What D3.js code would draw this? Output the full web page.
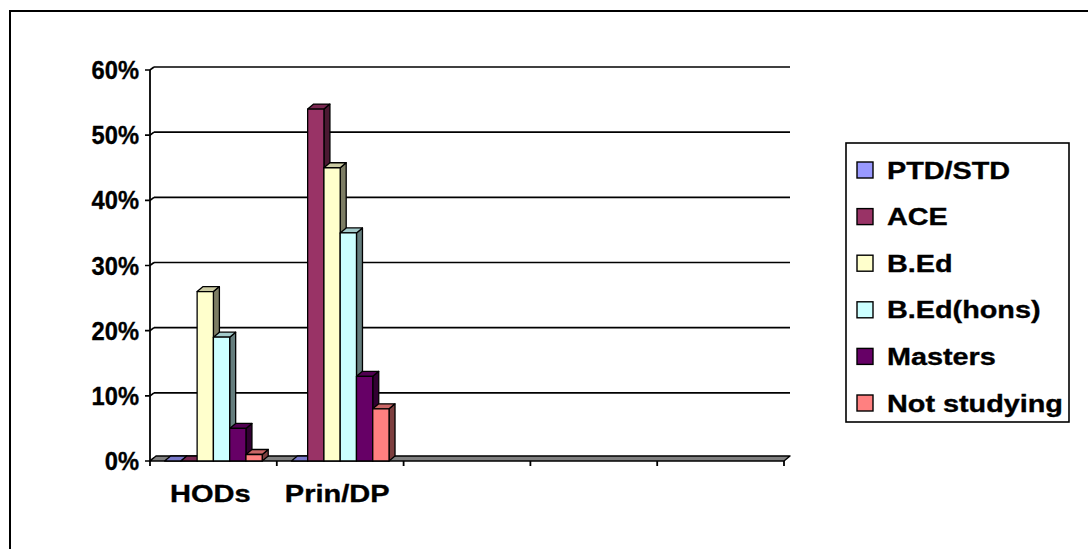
<!DOCTYPE html>
<html>
<head>
<meta charset="utf-8">
<script src="https://cdn.jsdelivr.net/npm/d3@7/dist/d3.min.js"></script>
<style>
  html, body { margin: 0; padding: 0; background: #fff; }
  svg { display: block; }
  text { font-family: "Liberation Sans", Arial, sans-serif; font-weight: bold; fill: #000;
         stroke: #000; stroke-width: 0.35px; }
</style>
</head>
<body>
<svg id="chart" width="1088" height="549"></svg>
<script>
// Qualification levels of HODs and principals/deputy principals
const categories = ["HODs", "Prin/DP", "", "", ""];
const seriesNames = ["PTD/STD", "ACE", "B.Ed", "B.Ed(hons)", "Masters", "Not studying"];
const seriesColors = ["#9999FF", "#993366", "#FFFFCC", "#CCFFFF", "#660066", "#FF8080"];
const hodValues  = [0, 0, 0.26, 0.19, 0.05, 0.01];
const prinValues = [0, 0.54, 0.45, 0.35, 0.13, 0.08];
const yTicks = [0, 0.1, 0.2, 0.3, 0.4, 0.5, 0.6];

const valuesByCategory = [hodValues, prinValues, [], [], []];

const svg = d3.select("#chart");

// chart area frame
svg.append("rect")
  .attr("x", 10).attr("y", 11)
  .attr("width", 1200).attr("height", 600)
  .attr("fill", "#fff").attr("stroke", "#000").attr("stroke-width", 2);

// plot geometry: front plane plus a shallow back wall
const left = 150, right = 784;
const wallDx = 4, wallDy = 3;      // back wall offset
const depthDx = 6, depthDy = 5;    // bar / floor depth

const x0 = d3.scaleBand().domain(d3.range(categories.length)).range([left, right]).padding(0);
const x1 = d3.scaleBand().domain(seriesNames)
  .range([x0.bandwidth() * 0.115, x0.bandwidth() * 0.885]).padding(0);
const y = d3.scaleLinear().domain([0, 0.6]).range([461, 70]);

function label(g, x, yy, str, anchor, size, sx) {
  return g.append("text")
    .attr("transform", `translate(${x},${yy}) scale(${sx},1)`)
    .attr("text-anchor", anchor)
    .style("font-size", size + "px")
    .text(str);
}

// back wall gridlines with the wall-edge bend and outer tick
const grid = svg.append("g");
yTicks.forEach(t => {
  const yf = y(t), yb = y(t) - wallDy;
  if (t > 0) {
    grid.append("line")
      .attr("x1", left + wallDx).attr("x2", right + depthDx)
      .attr("y1", yb).attr("y2", yb)
      .attr("stroke", "#000").attr("stroke-width", 1.7);
  }
  grid.append("path")
    .attr("d", `M${left - 5},${yf}L${left},${yf}L${left + wallDx},${yb}`)
    .attr("fill", "none").attr("stroke", "#000").attr("stroke-width", 1.7);
});

// value axis line
svg.append("line")
  .attr("x1", left).attr("x2", left)
  .attr("y1", y(0.6)).attr("y2", y(0) + 1)
  .attr("stroke", "#000").attr("stroke-width", 1.8);

// floor slab
svg.append("path")
  .attr("d", `M${left},${y(0)}L${right},${y(0)}L${right + depthDx},${y(0) - depthDy}L${left + depthDx},${y(0) - depthDy}Z`)
  .attr("fill", "#808080").attr("stroke", "#000").attr("stroke-width", 1.4)
  .attr("stroke-linejoin", "round");

// category axis ticks
svg.append("g").selectAll("line")
  .data(d3.range(categories.length + 1))
  .join("line")
  .attr("x1", i => left + i * x0.bandwidth())
  .attr("x2", i => left + i * x0.bandwidth())
  .attr("y1", y(0)).attr("y2", y(0) + 5)
  .attr("stroke", "#000").attr("stroke-width", 1.8);

// 3D columns: side, top, then front face, left to right
const bars = svg.append("g");
valuesByCategory.forEach((vals, ci) => {
  vals.forEach((v, si) => {
    const color = d3.rgb(seriesColors[si]);
    const bx = x0(ci) + x1(seriesNames[si]);
    const bw = x1.bandwidth();
    const yt = y(v), yb = y(0);
    const g = bars.append("g")
      .attr("stroke", "#000").attr("stroke-width", 1.3).attr("stroke-linejoin", "round");
    g.append("path")
      .attr("d", `M${bx + bw},${yb}L${bx + bw + depthDx},${yb - depthDy}L${bx + bw + depthDx},${yt - depthDy}L${bx + bw},${yt}Z`)
      .attr("fill", color.darker(2));
    g.append("path")
      .attr("d", `M${bx},${yt}L${bx + depthDx},${yt - depthDy}L${bx + bw + depthDx},${yt - depthDy}L${bx + bw},${yt}Z`)
      .attr("fill", color.darker(0.65));
    if (yb - yt > 0.5) {
      g.append("rect")
        .attr("x", bx).attr("y", yt)
        .attr("width", bw).attr("height", yb - yt)
        .attr("fill", color);
    }
  });
});

// value labels
const yLab = svg.append("g");
yTicks.forEach(t => {
  label(yLab, 139, y(t) + 9, d3.format(".0%")(t), "end", 25.5, 0.93);
});

// category labels
const xLab = svg.append("g");
categories.forEach((c, i) => {
  if (c) label(xLab, x0(i) + x0.bandwidth() / 2 - 3, 502, c, "middle", 24, 1.21);
});

// legend
const legend = svg.append("g");
legend.append("rect")
  .attr("x", 846).attr("y", 143).attr("width", 223).attr("height", 279)
  .attr("fill", "#fff").attr("stroke", "#000").attr("stroke-width", 1.6);
seriesNames.forEach((name, i) => {
  const cy = 170 + i * 46.6;
  legend.append("rect")
    .attr("x", 857).attr("y", cy - 8).attr("width", 16).attr("height", 16)
    .attr("fill", seriesColors[i]).attr("stroke", "#000").attr("stroke-width", 1.4);
  label(legend, 887, cy + 8.5, name, "start", 24, 1.2);
});
</script>
</body>
</html>
